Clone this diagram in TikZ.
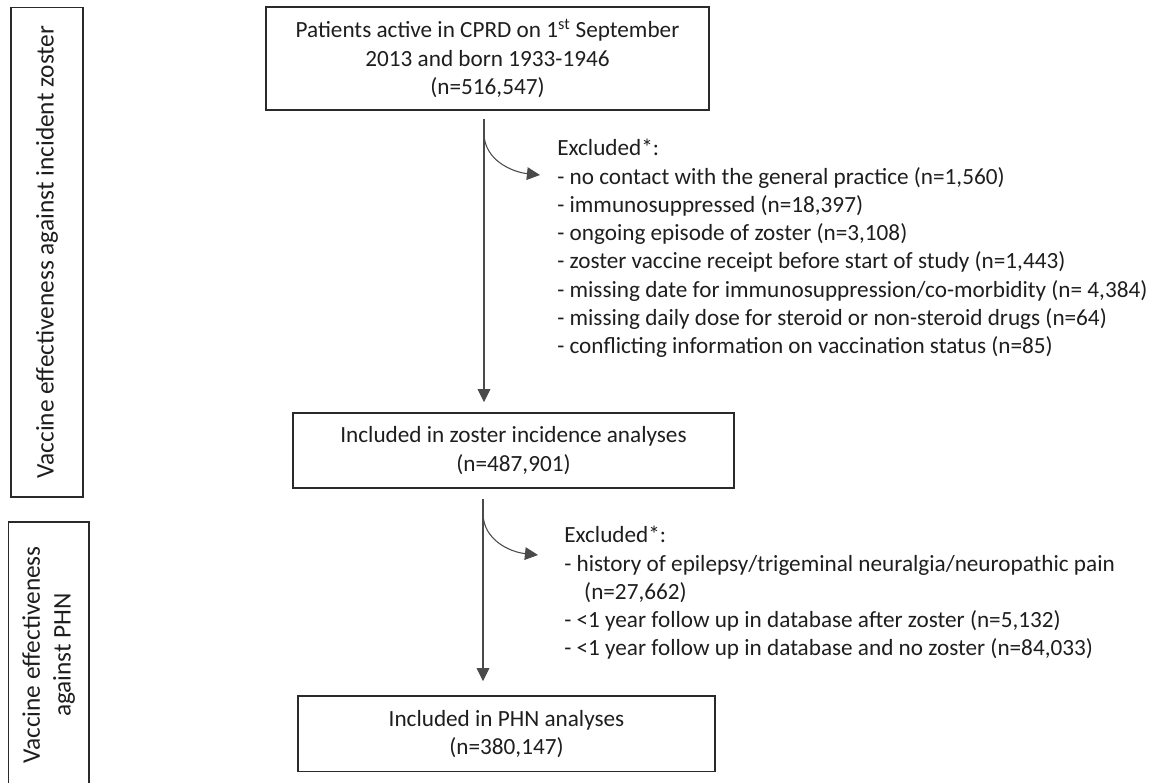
\documentclass[tikz,border=0pt]{standalone}
\usepackage{fontspec}
\setmainfont{Carlito}
\usetikzlibrary{arrows.meta}

\definecolor{boxgray}{HTML}{2A2A2A}
\definecolor{linegray}{HTML}{4A4A4A}
\definecolor{textgray}{HTML}{1E1E1E}

\newdimen\px \px=0.75pt

\tikzstyle{stage}=[draw=boxgray, line width=1.2pt, align=center, inner sep=0pt, text=textgray]
\tikzstyle{side}=[stage, rotate=90, font=\fontsize{19}{23}\selectfont]
\tikzstyle{excl}=[anchor=north west, align=left, inner sep=0pt, text=textgray]
\tikzstyle{arrow}=[draw=linegray, line width=0.8pt, -{Triangle[width=9.5pt, length=9.8pt]}]

\begin{document}
\begin{tikzpicture}[x=0.75pt, y=-0.75pt, font=\fontsize{17.4}{21.2}\selectfont]
      \useasboundingbox (0,0) rectangle (1153,782);
      \clip (0,0) rectangle (1153,782);

      \node[side, minimum width=489.4\px, minimum height=72.3\px] (phase1) at (46.9,252) {Vaccine effectiveness against incident zoster};
      \node[side, minimum width=266\px, minimum height=80.4\px] (phase2) at (48.6,655) {Vaccine effectiveness\\against PHN};

      \node[stage, minimum width=443\px, minimum height=103\px] (cohort) at (487.5,58.5) {Patients active in CPRD on 1\textsuperscript{st} September\\2013 and born 1933-1946\\(n=516,547)};
      \node[stage, minimum width=441\px, minimum height=75\px] (zoster) at (513.5,450.5) {Included in zoster incidence analyses\\(n=487,901)};
      \node[stage, minimum width=417\px, minimum height=75.5\px] (phn) at (506.5,733.8) {Included in PHN analyses\\(n=380,147)};

      \node[excl] (excl1) at (557,139) {Excluded*:\\
        - no contact with the general practice (n=1,560)\\
        - immunosuppressed (n=18,397)\\
        - ongoing episode of zoster (n=3,108)\\
        - zoster vaccine receipt before start of study (n=1,443)\\
        - missing date for immunosuppression/co-morbidity (n= 4,384)\\
        - missing daily dose for steroid or non-steroid drugs (n=64)\\
        - conflicting information on vaccination status (n=85)};
      \node[excl] (excl2) at (564,526) {Excluded*:\\
        - history of epilepsy/trigeminal neuralgia/neuropathic pain\\
        \hspace*{0.86em}(n=27,662)\\
        - <1 year follow up in database after zoster (n=5,132)\\
        - <1 year follow up in database and no zoster (n=84,033)};

      \coordinate (x1) at (484,0);
      \coordinate (x2) at (483,0);
      \coordinate (b1) at (484,133);
      \coordinate (t1) at (540,175);
      \coordinate (b2) at (483,513);
      \coordinate (t2) at (538,555);

      \draw[arrow, shorten <=6pt, shorten >=7.5pt] (cohort.south -| x1) -- (zoster.north -| x1);
      \draw[arrow, shorten <=7.5pt, shorten >=10.5pt] (zoster.south -| x2) -- (phn.north -| x2);
      \draw[arrow] (b1) .. controls (484,160) and (512,172) .. (t1);
      \draw[arrow] (b2) .. controls (483,540) and (510,552) .. (t2);
    \end{tikzpicture}
\end{document}
